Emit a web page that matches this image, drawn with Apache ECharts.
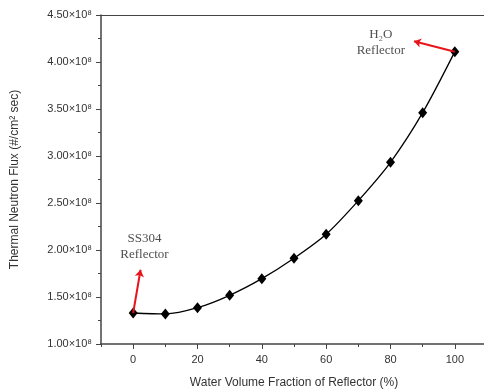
<!DOCTYPE html>
<html>
<head>
<meta charset="utf-8">
<script src="https://cdn.jsdelivr.net/npm/echarts@6/dist/echarts.min.js"></script>
<style>
  html, body { margin: 0; padding: 0; background: #fff; }
  #chart { width: 484px; height: 392px; }
</style>
</head>
<body>
<div id="chart"></div>
<script>
// water volume fraction (%) and thermal flux (#/cm2 sec)
const fraction = [0, 10, 20, 30, 40, 50, 60, 70, 80, 90, 100];
const flux = [1.33e8, 1.32e8, 1.386e8, 1.518e8, 1.695e8, 1.912e8, 2.167e8, 2.525e8, 2.933e8, 3.461e8, 4.11e8];

// x tick positions: labelled majors and short minors
const xMajor = [0, 20, 40, 60, 80, 100];
const xMinor = [-10, 10, 30, 50, 70, 90, 110];

// red arrows: [from, to] in data units
const arrowSS = [[0, 1.33e8], [2.3, 1.79e8]];
const arrowH2O = [[100, 4.11e8], [87.3, 4.22e8]];

// annotation text anchors
const noteSS = { x: 3.5, y: 2.04e8, text: 'SS304\nReflector' };
const noteH2O = { x: 77, y: 4.21e8, text: 'H₂O\nReflector' };

const myChart = echarts.init(document.getElementById('chart'));

const fmtY = v => (v / 1e8).toFixed(2) + '×10⁸';
const axisColor = '#444';
const sans = 'Liberation Sans';

const option = {
    animation: false,
    grid: {
        left: 101, top: 15, bottom: 48, right: -3,
        outerBoundsMode: 'none',
        containLabel: false
    },
    xAxis: [
        {
            type: 'value',
            min: -10, max: 110,
            name: 'Water Volume Fraction of Reflector (%)',
            nameLocation: 'middle',
            nameGap: 33,
            nameTextStyle: { fontFamily: sans, fontSize: 12, color: '#333' },
            axisLine: { onZero: false, lineStyle: { color: axisColor, width: 1.5 } },
            axisTick: { length: 5, customValues: xMajor, lineStyle: { color: axisColor } },
            axisLabel: {
                fontFamily: sans, fontSize: 11, color: '#333', margin: 10,
                customValues: xMajor
            },
            splitLine: { show: false }
        },
        {
            type: 'value',
            position: 'bottom',
            offset: 0,
            min: -10, max: 110,
            axisLine: { show: false, onZero: false },
            axisTick: { show: true, length: 3, customValues: xMinor, lineStyle: { color: axisColor } },
            axisLabel: { show: false },
            splitLine: { show: false }
        },
        {
            type: 'value',
            position: 'top',
            offset: 0,
            min: -10, max: 110,
            axisLine: { show: true, onZero: false, lineStyle: { color: axisColor, width: 1 } },
            axisTick: { show: false },
            axisLabel: { show: false },
            splitLine: { show: false }
        }
    ],
    yAxis: {
        type: 'value',
        min: 1e8, max: 4.5e8, interval: 0.5e8,
        name: 'Thermal Neutron Flux (#/cm² sec)',
        nameLocation: 'middle',
        nameGap: 80,
        nameTextStyle: { fontFamily: sans, fontSize: 12, color: '#333' },
        axisLine: { show: true, onZero: false, lineStyle: { color: axisColor, width: 1.5 } },
        axisTick: { show: true, length: 5, lineStyle: { color: axisColor } },
        minorTick: { show: true, splitNumber: 2, length: 3, lineStyle: { color: axisColor } },
        axisLabel: {
            fontFamily: sans, fontSize: 11, color: '#333', margin: 9,
            formatter: fmtY
        },
        splitLine: { show: false }
    },
    series: [
        {
            type: 'line',
            data: fraction.map((x, i) => [x, flux[i]]),
            smooth: 0.3,
            symbol: 'diamond',
            symbolSize: [9, 11],
            itemStyle: { color: '#000' },
            lineStyle: { color: '#000', width: 1.3 },
            z: 3
        },
        {
            type: 'lines',
            coordinateSystem: 'cartesian2d',
            data: [{ coords: arrowSS }, { coords: arrowH2O }],
            symbol: ['none', 'arrow'],
            symbolSize: 7,
            lineStyle: { color: '#e8141b', width: 2, opacity: 1 },
            z: 4
        },
        {
            type: 'scatter',
            symbolSize: 0,
            data: [[noteSS.x, noteSS.y, noteSS.text], [noteH2O.x, noteH2O.y, noteH2O.text]],
            label: {
                show: true,
                position: 'inside',
                formatter: p => p.value[2],
                fontFamily: 'Liberation Serif',
                fontSize: 13,
                lineHeight: 16,
                color: '#222',
                align: 'center'
            },
            silent: true
        }
    ]
};

myChart.setOption(option);
</script>
</body>
</html>
